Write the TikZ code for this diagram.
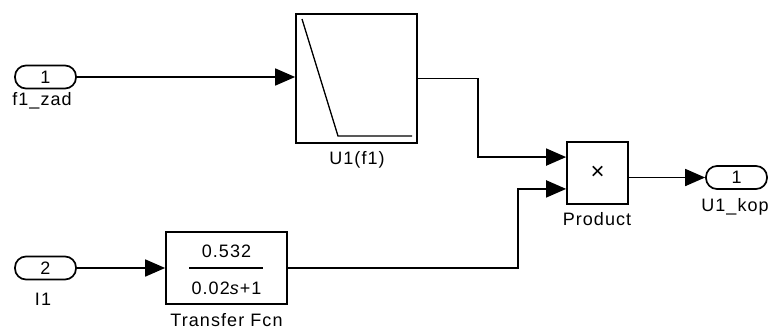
\documentclass[tikz,border=0pt]{standalone}
\usepackage{fontspec}
\setmainfont{Liberation Sans}[LetterSpace=6]
\usetikzlibrary{arrows.meta,calc}
\begin{document}
\begin{tikzpicture}[x=1pt,y=-1pt,
 blk/.style={draw, line width=1.7pt, inner sep=0pt},
 port/.style={draw, line width=1.7pt, rounded corners=11pt, minimum width=61pt, minimum height=23pt, inner sep=0pt, font=\fontsize{18}{20}\selectfont},
 lbl/.style={font=\fontsize{18}{20}\selectfont, inner sep=0pt},
 sig/.style={line width=1.7pt, -{Triangle[length=20pt,width=17pt]}}]
\useasboundingbox (0,0) rectangle (768,329);
% ports
\node[port] (in1) at (45.5,77) {1};
\node[port] (in2) at (45.5,268) {2};
\node[port] (out) at (736.5,177.5) {1};
% blocks
\node[blk, minimum width=121pt, minimum height=129pt] (lut) at (356.5,78.5) {};
\node[blk, minimum width=121pt, minimum height=72pt] (tf) at (226.5,268) {};
\node[blk, minimum width=61pt, minimum height=62pt, font=\fontsize{24}{24}\selectfont] (prod) at (597.5,173) {×};
% lookup curve
\draw[line width=1.3pt] (302,19) -- (338,136) -- (412,136);
% transfer function text
\node[lbl] (num) at (226.5,251) {0.532};
\node[lbl] (den) at (226.5,288) {0.02\textit{s}+1};
\draw[line width=1.7pt] (189,268) -- (263,268);
% labels
\node[lbl] (l1) at (42,101) {f1\_zad};
\node[lbl] (l2) at (43,299) {I1};
\node[lbl] (l3) at (357,160) {U1(f1)};
\node[lbl] (l4) at (226.5,320) {Transfer Fcn};
\node[lbl] (l5) at (597,219) {Product};
\node[lbl] (l6) at (735,207) {U1\_kop};
% product input points
\coordinate (p1) at ($(prod.north west)!0.25!(prod.south west)$);
\coordinate (p2) at ($(prod.north west)!0.75!(prod.south west)$);
% signals
\draw[sig] (in1.east) -- (in1.east -| lut.west);
\draw[sig] (in2.east) -- (tf.west);
\draw[sig] (lut.east) -- ++(60,0) |- (p1);
\draw[sig] (tf.east) -- ++(230,0) |- (p2);
\draw[sig] (out.west -| prod.east) -- (out.west);
\end{tikzpicture}
\end{document}
